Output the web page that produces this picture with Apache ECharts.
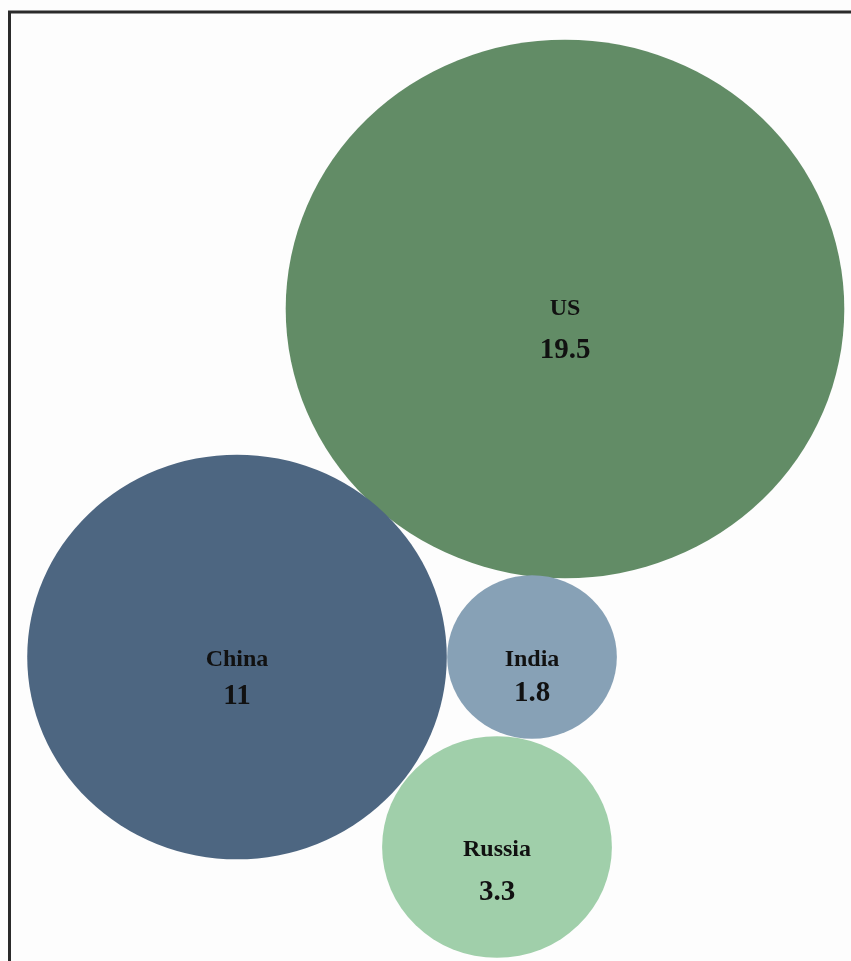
<!DOCTYPE html>
<html>
<head>
<meta charset="utf-8">
<script src="https://cdn.jsdelivr.net/npm/echarts@6/dist/echarts.min.js"></script>
<style>
  html, body { margin: 0; padding: 0; background: #fdfdfd; }
  #chart { width: 851px; height: 961px; }
</style>
</head>
<body>
<div id="chart"></div>
<script>
// ---- data ----
var countries = ['US', 'China', 'India', 'Russia'];
var values = [19.5, 11, 1.8, 3.3];

// ---- layout (packed-bubble positions, pixel-space axes) ----
var layoutX = [565, 237, 532, 497];
var layoutY = [309, 657, 657, 847];
var labelGap = [42, 37, 34, 43];
var labelDy = [0, 3, 3, 3];

// ---- styles ----
var colors = ['#628c66', '#4d6681', '#87a1b6', '#a0cfaa'];
var sizeScaleX = 126.5;
var sizeScaleY = 122;

var chart = echarts.init(document.getElementById('chart'));

var seriesData = countries.map(function (c, i) {
  var g = labelGap[i];
  return {
    name: c,
    value: [layoutX[i], layoutY[i], values[i]],
    itemStyle: { color: colors[i], opacity: 1 },
    label: {
      offset: [0, g / 2 + labelDy[i]],
      rich: {
        n: { fontFamily: 'Liberation Serif', fontWeight: 'bold', fontSize: 24, color: '#111111', lineHeight: g, align: 'center' },
        v: { fontFamily: 'Liberation Serif', fontWeight: 'bold', fontSize: 29, color: '#111111', lineHeight: g, align: 'center' }
      }
    }
  };
});

chart.setOption({
  backgroundColor: '#fdfdfd',
  animation: false,
  grid: { left: 0, top: 0, width: 851, height: 961 },
  xAxis: { type: 'value', min: 0, max: 851, show: false },
  yAxis: { type: 'value', min: 0, max: 961, inverse: true, show: false },
  graphic: [
    { type: 'line', shape: { x1: 8, y1: 12, x2: 851, y2: 12 }, style: { stroke: '#2b2b2b', lineWidth: 3 } },
    { type: 'line', shape: { x1: 9.5, y1: 11, x2: 9.5, y2: 961 }, style: { stroke: '#2b2b2b', lineWidth: 3 } }
  ],
  series: [{
    type: 'scatter',
    symbol: 'circle',
    symbolSize: function (val) {
      var r = Math.sqrt(val[2]);
      return [sizeScaleX * r, sizeScaleY * r];
    },
    itemStyle: { opacity: 1 },
    label: {
      show: true,
      position: 'inside',
      opacity: 1,
      formatter: function (p) { return '{n|' + p.name + '}\n{v|' + p.value[2] + '}'; }
    },
    emphasis: { disabled: true },
    data: seriesData
  }]
});
</script>
</body>
</html>
